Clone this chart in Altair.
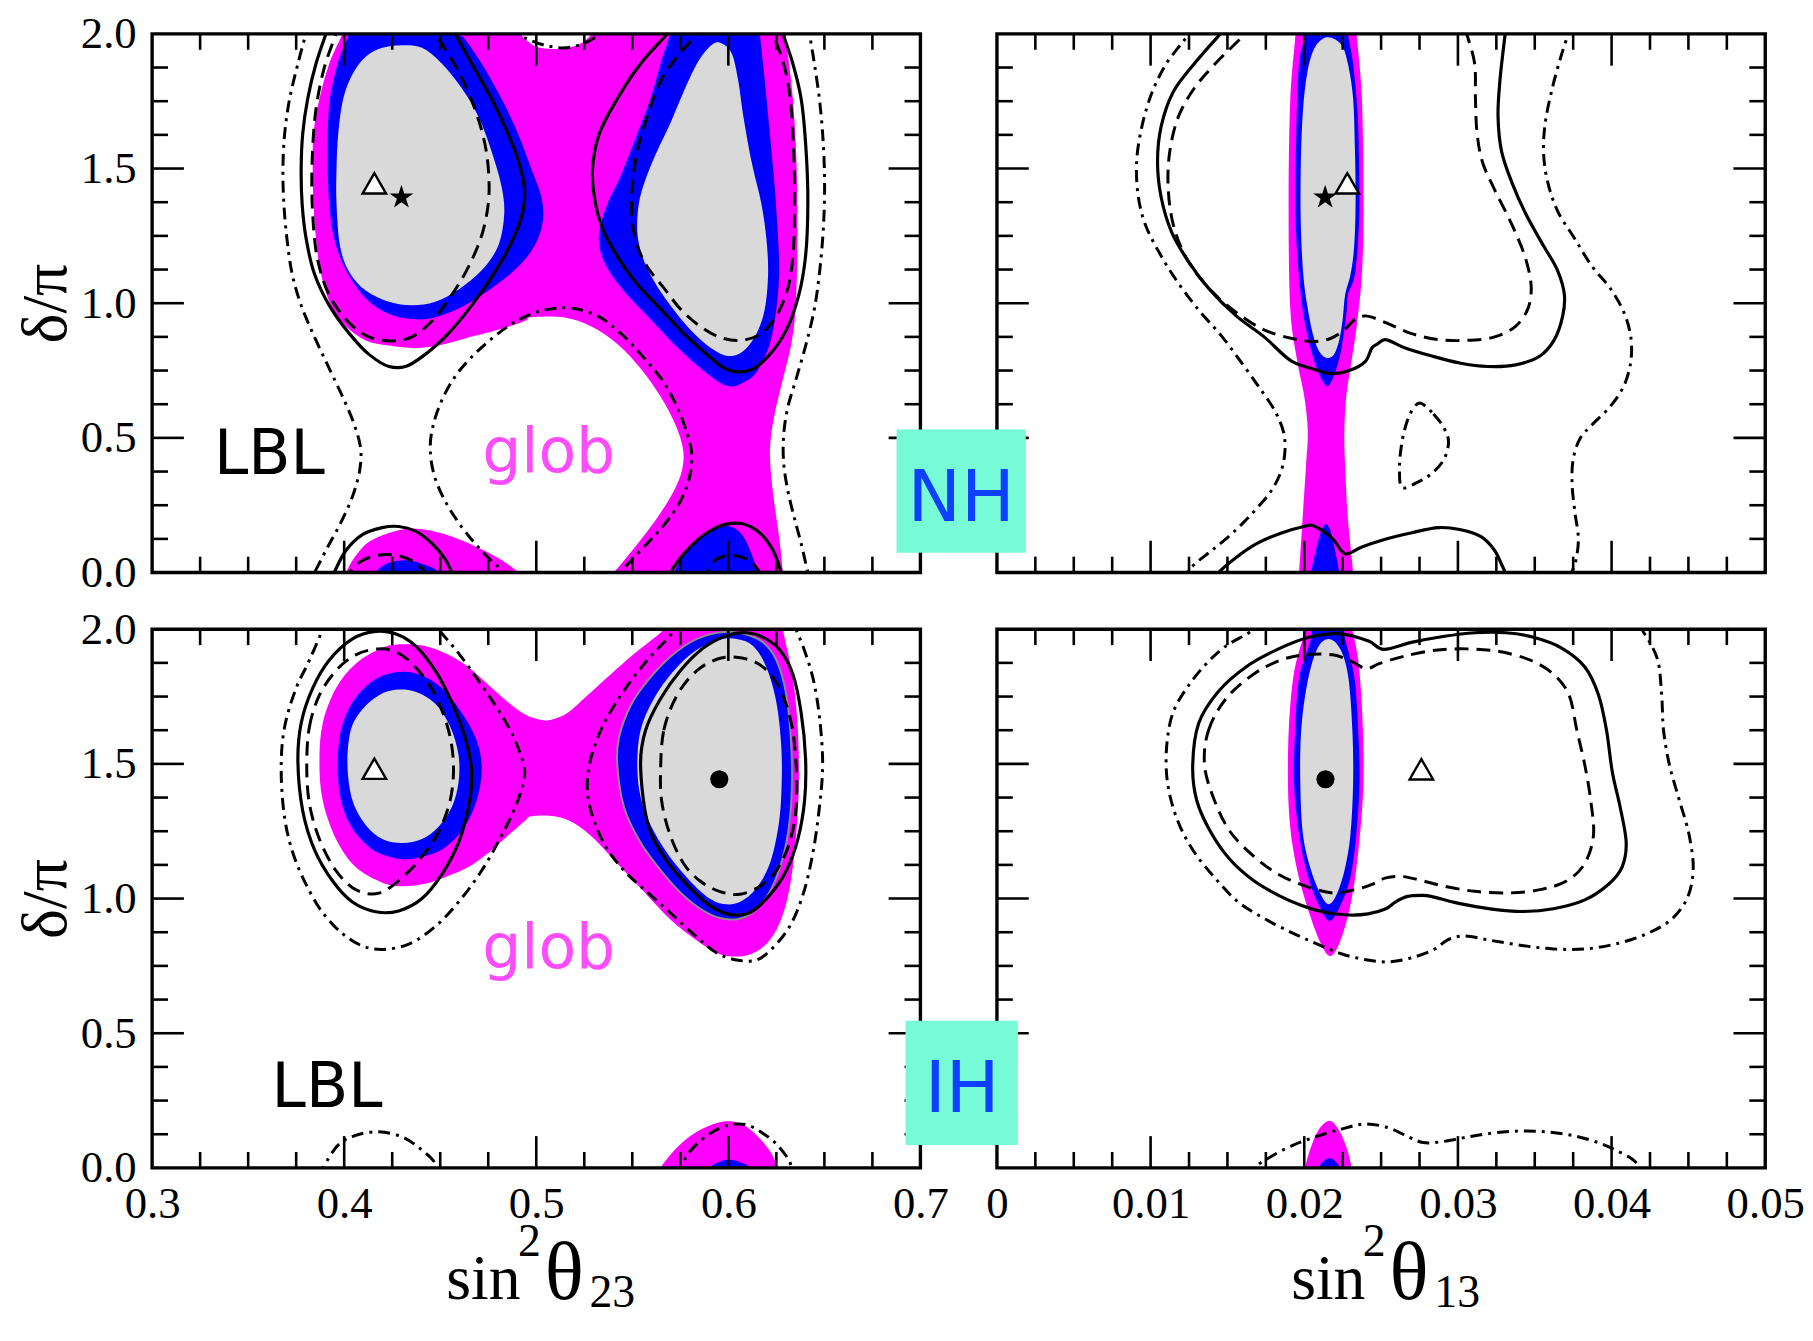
import altair as alt
import pandas as pd

# ---------------- axis values ----------------
X23_TICKS = [0.3, 0.4, 0.5, 0.6, 0.7]
X13_TICKS = [0.0, 0.01, 0.02, 0.03, 0.04, 0.05]
Y_TICKS = [0.0, 0.5, 1.0, 1.5, 2.0]

# ================= NH, sin^2(theta23) =================
NH23_MAG = [(0.402,2.06),(0.3991,2.0),(0.3922,1.889),(0.3871,1.759),(0.384,1.629),(0.3836,1.499),(0.384,1.369),(0.3853,1.239),(0.3879,1.109),(0.3931,0.992),(0.4009,0.914),(0.4112,0.862),(0.4233,0.843),(0.4371,0.834),(0.4491,0.843),(0.4629,0.869),(0.4802,0.901),(0.494,0.934),(0.4974,0.948),(0.5147,0.947),(0.5284,0.914),(0.5422,0.849),(0.5543,0.758),(0.5647,0.654),(0.5724,0.55),(0.5764,0.459),(0.5759,0.381),(0.5716,0.303),(0.5638,0.212),(0.5543,0.121),(0.544,0.03),(0.5405,0.0),(0.536,-0.06),(0.629,-0.06),(0.6284,0.0),(0.6264,0.134),(0.6238,0.264),(0.6219,0.394),(0.6219,0.485),(0.6241,0.589),(0.6284,0.719),(0.6328,0.849),(0.635,0.979),(0.6359,1.174),(0.6359,1.369),(0.6353,1.564),(0.6336,1.759),(0.6316,1.889),(0.6298,2.0),(0.629,2.06),(0.534,2.06),(0.529,2.0),(0.522,1.96),(0.512,1.945),(0.502,1.948),(0.496,1.97),(0.492,2.0),(0.49,2.06)]
NH23_MAG_BL = [(0.398,-0.06),(0.4009,0.0),(0.406,0.062),(0.4129,0.114),(0.4233,0.147),(0.4336,0.163),(0.444,0.157),(0.456,0.134),(0.4681,0.098),(0.4802,0.054),(0.4905,0.0),(0.496,-0.06)]
NH23_BLUE_L = [(0.405,2.06),(0.4026,2.0),(0.3966,1.889),(0.3926,1.759),(0.3914,1.629),(0.3914,1.499),(0.3922,1.369),(0.3948,1.239),(0.4009,1.122),(0.4112,1.018),(0.4233,0.96),(0.4371,0.94),(0.4491,0.951),(0.4629,0.992),(0.4784,1.064),(0.4905,1.135),(0.4991,1.213),(0.5034,1.304),(0.5026,1.395),(0.4974,1.499),(0.4905,1.629),(0.4819,1.759),(0.4716,1.889),(0.4629,1.98),(0.4595,2.0),(0.457,2.06)]
NH23_BLUE_R = [(0.572,2.06),(0.5698,2.0),(0.5647,1.889),(0.5595,1.759),(0.5526,1.629),(0.544,1.473),(0.5371,1.369),(0.5328,1.265),(0.5336,1.187),(0.5388,1.109),(0.5474,1.031),(0.5595,0.94),(0.5716,0.849),(0.5836,0.771),(0.594,0.713),(0.6009,0.691),(0.6078,0.706),(0.6147,0.745),(0.6216,0.849),(0.625,0.979),(0.6264,1.109),(0.6259,1.239),(0.6241,1.434),(0.6216,1.629),(0.619,1.824),(0.6164,2.0),(0.616,2.06)]
NH23_BLUE_BL = [(0.413,-0.06),(0.4164,0.0),(0.4233,0.036),(0.4336,0.045),(0.444,0.023),(0.4491,0.0),(0.452,-0.06)]
NH23_BLUE_BR = [(0.568,-0.06),(0.5716,0.0),(0.5784,0.082),(0.5871,0.141),(0.5966,0.171),(0.6026,0.167),(0.6078,0.134),(0.6121,0.069),(0.6155,0.0),(0.618,-0.06)]
NH23_GRAY_L = [(0.4112,1.915),(0.4198,1.948),(0.4302,1.958),(0.4405,1.948),(0.4509,1.889),(0.4612,1.798),(0.4698,1.694),(0.4767,1.564),(0.4819,1.434),(0.4833,1.33),(0.4802,1.213),(0.4716,1.122),(0.4595,1.051),(0.4474,1.005),(0.4353,0.992),(0.4233,1.005),(0.4112,1.047),(0.4026,1.116),(0.3978,1.213),(0.396,1.369),(0.396,1.499),(0.3969,1.629),(0.3995,1.759),(0.4043,1.85)]
NH23_GRAY_R = [(0.5957,1.967),(0.6017,1.928),(0.6052,1.824),(0.6078,1.694),(0.6121,1.525),(0.6172,1.369),(0.6198,1.239),(0.6207,1.109),(0.619,0.979),(0.6147,0.888),(0.6078,0.823),(0.6,0.804),(0.5905,0.836),(0.5802,0.901),(0.5698,0.992),(0.5612,1.083),(0.5552,1.174),(0.5526,1.265),(0.5534,1.369),(0.5569,1.46),(0.5629,1.564),(0.5698,1.668),(0.5767,1.785),(0.5836,1.889),(0.5905,1.954)]
NH23_SOLID_L = [(0.3925,2.04),(0.3905,2.0),(0.3853,1.889),(0.381,1.759),(0.3784,1.629),(0.3776,1.499),(0.3781,1.369),(0.3802,1.239),(0.3845,1.109),(0.3922,0.992),(0.4026,0.888),(0.4129,0.81),(0.4233,0.765),(0.4319,0.765),(0.4422,0.81),(0.4543,0.888),(0.4664,0.992),(0.4767,1.096),(0.4862,1.213),(0.4922,1.317),(0.494,1.408),(0.4914,1.512),(0.4853,1.629),(0.4767,1.759),(0.4664,1.889),(0.4578,2.0),(0.455,2.04)]
NH23_SOLID_R = [(0.572,2.04),(0.5681,2.0),(0.5543,1.889),(0.5422,1.759),(0.5328,1.629),(0.5293,1.499),(0.5302,1.395),(0.5345,1.278),(0.5422,1.174),(0.5526,1.07),(0.5647,0.979),(0.5767,0.888),(0.5888,0.81),(0.5974,0.761),(0.6052,0.745),(0.6129,0.756),(0.6216,0.81),(0.6302,0.901),(0.6367,1.031),(0.6402,1.174),(0.6414,1.369),(0.6405,1.564),(0.6379,1.759),(0.6336,1.889),(0.6284,2.0),(0.6265,2.04)]
NH23_SOLID_BL = [(0.393,-0.03),(0.3948,0.0),(0.4009,0.082),(0.4095,0.141),(0.4198,0.167),(0.4284,0.171),(0.4371,0.154),(0.4457,0.108),(0.4526,0.05),(0.456,0.0),(0.4575,-0.03)]
NH23_SOLID_BR = [(0.568,-0.03),(0.5698,0.0),(0.5784,0.082),(0.5888,0.147),(0.5991,0.18),(0.6078,0.18),(0.6164,0.147),(0.6233,0.082),(0.6276,0.0),(0.629,-0.03)]
NH23_DASH_L = [(0.3975,2.04),(0.3957,2.0),(0.3897,1.876),(0.3853,1.72),(0.3833,1.525),(0.3836,1.33),(0.3862,1.161),(0.3922,1.031),(0.4026,0.927),(0.4129,0.875),(0.425,0.86),(0.4353,0.875),(0.4457,0.934),(0.456,1.031),(0.4647,1.135),(0.4716,1.252),(0.475,1.369),(0.4753,1.473),(0.4733,1.59),(0.4681,1.72),(0.4603,1.85),(0.4517,1.954),(0.4474,2.0),(0.445,2.04)]
NH23_DASH_R = [(0.587,2.04),(0.5836,2.0),(0.5733,1.915),(0.5647,1.824),(0.5578,1.694),(0.5526,1.564),(0.55,1.434),(0.55,1.304),(0.5526,1.213),(0.5578,1.135),(0.5664,1.057),(0.575,0.979),(0.5853,0.914),(0.5957,0.873),(0.606,0.862),(0.6164,0.884),(0.625,0.953),(0.631,1.057),(0.6336,1.174),(0.6345,1.369),(0.634,1.564),(0.6322,1.759),(0.6288,1.889),(0.6241,1.98),(0.6224,2.0),(0.621,2.04)]
NH23_DASH_BL = [(0.4,-0.03),(0.4026,0.0),(0.4095,0.045),(0.4198,0.066),(0.4284,0.062),(0.4371,0.036),(0.4422,0.0),(0.444,-0.03)]
NH23_DASH_BR = [(0.586,-0.03),(0.5888,0.0),(0.594,0.05),(0.6026,0.063),(0.6112,0.043),(0.6164,0.0),(0.618,-0.03)]
NH23_DD_L = [(0.3825,2.04),(0.3802,2.0),(0.3759,1.889),(0.3716,1.759),(0.369,1.629),(0.3681,1.499),(0.3686,1.369),(0.3702,1.239),(0.3729,1.109),(0.3776,0.992),(0.3845,0.875),(0.3922,0.758),(0.3991,0.654),(0.4052,0.55),(0.4086,0.459),(0.4081,0.381),(0.4047,0.29),(0.3983,0.186),(0.3914,0.095),(0.3845,0.0),(0.382,-0.03)]
NH23_DD_MID = [(0.486,-0.03),(0.4836,0.0),(0.4767,0.043),(0.4681,0.108),(0.4595,0.186),(0.4517,0.277),(0.4466,0.368),(0.4448,0.459),(0.446,0.537),(0.4509,0.641),(0.4595,0.745),(0.4716,0.836),(0.4853,0.914),(0.4974,0.96),(0.5078,0.979),(0.5181,0.982),(0.5319,0.953),(0.544,0.888),(0.556,0.797),(0.5664,0.706),(0.5741,0.602),(0.5793,0.498),(0.581,0.433),(0.5798,0.355),(0.5759,0.277),(0.569,0.199),(0.5595,0.121),(0.5491,0.043),(0.544,0.0),(0.542,-0.03)]
NH23_DD_R = [(0.641,2.04),(0.6422,2.0),(0.6448,1.889),(0.6474,1.759),(0.6491,1.629),(0.65,1.499),(0.65,1.369),(0.6491,1.239),(0.6474,1.109),(0.6448,0.979),(0.6405,0.849),(0.6353,0.719),(0.631,0.615),(0.6288,0.511),(0.6288,0.407),(0.631,0.303),(0.6345,0.199),(0.6379,0.108),(0.6414,0.0),(0.6425,-0.03)]
NH23_DD_TOP = [(0.489,2.04),(0.491,2.0),(0.4974,1.975),(0.506,1.955),(0.5147,1.948),(0.523,1.96),(0.5302,1.985),(0.533,2.0),(0.535,2.04)]
NH23_STAR = [(0.4298, 1.393)]
NH23_TRI = [(0.4157, 1.445)]

# ================= NH, sin^2(theta13) =================
NH13_MAG = [(0.0194,2.06),(0.01943,2.0),(0.01909,1.759),(0.01898,1.369),(0.01909,0.979),(0.01955,0.784),(0.02,0.654),(0.02023,0.524),(0.02011,0.394),(0.01989,0.199),(0.01966,0.0),(0.0196,-0.06),(0.0232,-0.06),(0.02318,0.0),(0.02284,0.199),(0.02266,0.394),(0.02261,0.524),(0.02273,0.654),(0.02307,0.784),(0.02341,0.914),(0.02375,1.109),(0.02386,1.369),(0.02375,1.759),(0.02341,2.0),(0.0234,2.06)]
NH13_BLUE = [(0.0201,2.06),(0.02011,2.0),(0.01966,1.889),(0.01948,1.629),(0.01943,1.369),(0.01955,1.174),(0.01989,0.979),(0.02034,0.849),(0.02091,0.745),(0.02148,0.693),(0.02193,0.732),(0.02239,0.823),(0.02273,0.953),(0.02284,1.031),(0.0233,1.109),(0.02357,1.304),(0.02357,1.499),(0.02348,1.694),(0.02318,1.889),(0.02284,2.0),(0.0228,2.06)]
NH13_BLUE_BOT = [(0.0204,-0.06),(0.02045,0.0),(0.0208,0.095),(0.02114,0.16),(0.02143,0.18),(0.02175,0.147),(0.02205,0.069),(0.02227,0.0),(0.0223,-0.06)]
NH13_GRAY = [(0.02148,1.987),(0.02239,1.961),(0.02284,1.889),(0.02318,1.759),(0.0233,1.564),(0.02334,1.369),(0.02325,1.213),(0.02302,1.109),(0.02266,1.031),(0.0225,0.94),(0.02227,0.862),(0.02193,0.81),(0.02148,0.797),(0.02102,0.817),(0.02061,0.875),(0.02023,0.979),(0.01993,1.109),(0.01977,1.304),(0.01977,1.499),(0.01989,1.694),(0.02018,1.85),(0.02068,1.948)]
NH13_SOLID = [(0.0152,2.04),(0.01443,1.993),(0.01284,1.889),(0.01148,1.785),(0.01068,1.655),(0.01045,1.525),(0.01068,1.395),(0.01136,1.265),(0.01239,1.161),(0.01375,1.057),(0.01557,0.953),(0.01739,0.875),(0.0192,0.784),(0.02057,0.756),(0.0217,0.739),(0.02284,0.748),(0.02398,0.784),(0.02443,0.836),(0.02477,0.849),(0.02523,0.865),(0.02648,0.836),(0.0283,0.804),(0.03011,0.778),(0.03193,0.765),(0.03375,0.771),(0.03534,0.804),(0.03625,0.862),(0.03682,0.953),(0.03693,1.031),(0.03648,1.122),(0.03557,1.213),(0.03443,1.33),(0.03352,1.447),(0.03284,1.564),(0.03261,1.694),(0.03273,1.824),(0.03295,1.941),(0.03307,2.0),(0.0331,2.04)]
NH13_SOLID_BOT = [(0.0141,-0.03),(0.01443,0.0),(0.01557,0.056),(0.01693,0.108),(0.01852,0.147),(0.02011,0.173),(0.02045,0.176),(0.02125,0.153),(0.02193,0.121),(0.02239,0.082),(0.02273,0.069),(0.02375,0.095),(0.02511,0.121),(0.02693,0.147),(0.02875,0.167),(0.03011,0.16),(0.03148,0.134),(0.03239,0.082),(0.03284,0.03),(0.03307,0.0),(0.0331,-0.03)]
NH13_DASH = [(0.0167,2.04),(0.01602,1.993),(0.0142,1.889),(0.01284,1.798),(0.01182,1.694),(0.01125,1.564),(0.01114,1.434),(0.01148,1.291),(0.01239,1.161),(0.01398,1.044),(0.01557,0.966),(0.01739,0.901),(0.0192,0.869),(0.02057,0.858),(0.0217,0.869),(0.02261,0.901),(0.0233,0.94),(0.02398,0.953),(0.02534,0.927),(0.02693,0.888),(0.02875,0.865),(0.03057,0.862),(0.03239,0.875),(0.03375,0.914),(0.03455,0.979),(0.03477,1.057),(0.03443,1.161),(0.03352,1.291),(0.03239,1.421),(0.03159,1.525),(0.03125,1.629),(0.03114,1.759),(0.03109,1.889),(0.03068,1.98),(0.03057,2.0),(0.0305,2.04)]
NH13_DD_L = [(0.0128,2.04),(0.0125,2.0),(0.01205,1.967),(0.01102,1.889),(0.01011,1.785),(0.00943,1.655),(0.00909,1.525),(0.0092,1.395),(0.00966,1.291),(0.01057,1.187),(0.0117,1.083),(0.01307,0.979),(0.01466,0.875),(0.01602,0.771),(0.01716,0.68),(0.01807,0.602),(0.01864,0.524),(0.01875,0.459),(0.01852,0.381),(0.01784,0.303),(0.0167,0.225),(0.01534,0.147),(0.01398,0.082),(0.01284,0.03),(0.01239,0.0),(0.0122,-0.03)]
NH13_DD_R = [(0.0373,2.04),(0.03716,2.0),(0.0367,1.915),(0.03614,1.798),(0.03568,1.668),(0.03557,1.564),(0.0358,1.46),(0.03648,1.343),(0.03761,1.239),(0.03875,1.135),(0.03989,1.057),(0.0408,0.966),(0.04125,0.875),(0.04125,0.784),(0.0408,0.693),(0.03989,0.615),(0.03875,0.55),(0.03795,0.498),(0.0375,0.42),(0.03743,0.329),(0.03761,0.225),(0.03784,0.121),(0.03761,0.03),(0.03739,0.0),(0.0373,-0.03)]
NH13_DD_LOOP = [(0.02761,0.628),(0.02841,0.589),(0.02909,0.537),(0.02939,0.485),(0.02909,0.42),(0.0283,0.368),(0.02739,0.336),(0.02636,0.316),(0.0262,0.394),(0.02636,0.485),(0.0267,0.563),(0.02716,0.615)]
NH13_STAR = [(0.02136, 1.393)]
NH13_TRI = [(0.0228, 1.445)]

# ================= IH, sin^2(theta23) =================
IH23_MAG = [(0.3871,1.508),(0.3888,1.651),(0.3957,1.781),(0.406,1.872),(0.4198,1.931),(0.4302,1.944),(0.4422,1.938),(0.4543,1.905),(0.4647,1.859),(0.475,1.794),(0.4853,1.729),(0.494,1.684),(0.5019,1.664),(0.5078,1.664),(0.5164,1.69),(0.5267,1.755),(0.5388,1.833),(0.5491,1.898),(0.5595,1.957),(0.5664,2.0),(0.57,2.06),(0.628,2.06),(0.6284,2.0),(0.6336,1.82),(0.6362,1.625),(0.6367,1.43),(0.6353,1.234),(0.6319,1.039),(0.6267,0.909),(0.6198,0.831),(0.6112,0.792),(0.6026,0.785),(0.594,0.798),(0.5836,0.844),(0.5698,0.922),(0.556,1.026),(0.5422,1.13),(0.5302,1.221),(0.5198,1.28),(0.5095,1.306),(0.4974,1.306),(0.494,1.288),(0.4853,1.234),(0.475,1.169),(0.4647,1.117),(0.4543,1.085),(0.4422,1.055),(0.4302,1.046),(0.4198,1.059),(0.406,1.117),(0.3957,1.221),(0.3888,1.365)]
IH23_MAG_BOT = [(0.562,-0.06),(0.5647,0.0),(0.5733,0.076),(0.5836,0.134),(0.594,0.167),(0.6009,0.173),(0.6078,0.16),(0.6147,0.121),(0.6216,0.063),(0.6259,0.0),(0.628,-0.06)]
IH23_BLUE_L = [(0.3966,1.495),(0.3983,1.625),(0.4043,1.729),(0.4147,1.807),(0.4267,1.84),(0.4388,1.833),(0.4509,1.781),(0.4612,1.69),(0.469,1.586),(0.4716,1.482),(0.469,1.365),(0.4621,1.26),(0.4509,1.182),(0.4371,1.15),(0.4267,1.15),(0.4147,1.182),(0.4043,1.26),(0.3983,1.365)]
IH23_GRAY_L = [(0.4017,1.495),(0.4034,1.625),(0.4095,1.703),(0.4181,1.755),(0.4267,1.775),(0.4371,1.768),(0.4474,1.723),(0.4552,1.638),(0.4595,1.534),(0.4595,1.43),(0.456,1.339),(0.4491,1.267),(0.4405,1.221),(0.4302,1.206),(0.4198,1.221),(0.4112,1.273),(0.4043,1.365)]
IH23_BLUE_R = [(0.5422,1.495),(0.5431,1.599),(0.5491,1.716),(0.5578,1.807),(0.5698,1.898),(0.5836,1.964),(0.5974,1.99),(0.6078,1.983),(0.6181,1.951),(0.625,1.885),(0.6302,1.755),(0.6328,1.56),(0.6328,1.365),(0.6302,1.208),(0.625,1.078),(0.6181,0.987),(0.6095,0.935),(0.6009,0.922),(0.5905,0.941),(0.5784,1.0),(0.5664,1.091),(0.5543,1.208),(0.5457,1.339)]
IH23_GRAY_R = [(0.5526,1.495),(0.5543,1.625),(0.5612,1.742),(0.5716,1.846),(0.5836,1.924),(0.5957,1.961),(0.6043,1.964),(0.6129,1.938),(0.6198,1.859),(0.625,1.729),(0.6276,1.56),(0.6276,1.391),(0.6259,1.26),(0.6216,1.13),(0.6147,1.039),(0.606,0.987),(0.5974,0.98),(0.5888,1.007),(0.5784,1.078),(0.5681,1.169),(0.5595,1.273),(0.5543,1.378)]
IH23_BLUE_BOT = [(0.589,-0.06),(0.5905,0.0),(0.5957,0.023),(0.6009,0.03),(0.606,0.021),(0.6112,0.0),(0.613,-0.06)]
IH23_SOLID_L = [(0.3759,1.508),(0.3776,1.651),(0.3836,1.781),(0.3922,1.885),(0.4043,1.964),(0.4164,1.992),(0.4267,1.983),(0.4371,1.938),(0.4474,1.846),(0.456,1.729),(0.4629,1.599),(0.4664,1.469),(0.4647,1.339),(0.4595,1.208),(0.4509,1.091),(0.4405,1.0),(0.4284,0.954),(0.4164,0.951),(0.4043,0.987),(0.394,1.065),(0.3845,1.182),(0.3784,1.326)]
IH23_DASH_L = [(0.3805,1.495),(0.3819,1.638),(0.3871,1.755),(0.3957,1.846),(0.406,1.905),(0.4181,1.927),(0.4284,1.911),(0.4388,1.846),(0.4474,1.755),(0.4543,1.625),(0.4569,1.495),(0.4552,1.365),(0.4491,1.247),(0.4405,1.156),(0.4302,1.078),(0.4181,1.02),(0.406,1.033),(0.3957,1.104),(0.3871,1.221),(0.3819,1.352)]
IH23_SOLID_R = [(0.5543,1.495),(0.5569,1.625),(0.5647,1.742),(0.575,1.846),(0.5871,1.931),(0.5991,1.977),(0.6095,1.987),(0.6181,1.97),(0.6267,1.924),(0.6336,1.833),(0.6379,1.69),(0.6402,1.521),(0.6397,1.365),(0.6362,1.221),(0.6302,1.104),(0.6216,1.013),(0.6112,0.948),(0.6009,0.941),(0.5905,0.974),(0.5784,1.052),(0.5664,1.156),(0.5578,1.286)]
IH23_DASH_R = [(0.5647,1.469),(0.5664,1.625),(0.5733,1.755),(0.5836,1.846),(0.5957,1.892),(0.6078,1.892),(0.6181,1.859),(0.6267,1.781),(0.6328,1.651),(0.6353,1.495),(0.6353,1.339),(0.6319,1.208),(0.625,1.104),(0.6164,1.046),(0.606,1.016),(0.5957,1.026),(0.5853,1.065),(0.5767,1.13),(0.5698,1.234),(0.5655,1.352)]
IH23_DD_L = [(0.391,2.04),(0.3888,2.0),(0.3819,1.885),(0.375,1.781),(0.369,1.638),(0.3672,1.495),(0.369,1.299),(0.3733,1.169),(0.3802,1.052),(0.3888,0.948),(0.3991,0.87),(0.4095,0.824),(0.4198,0.811),(0.4336,0.831),(0.4474,0.896),(0.4595,0.987),(0.4716,1.104),(0.4819,1.234),(0.4905,1.365),(0.494,1.47),(0.4905,1.56),(0.4853,1.64),(0.4784,1.72),(0.4698,1.81),(0.4595,1.911),(0.4491,2.0),(0.445,2.04)]
IH23_DD_R = [(0.575,2.04),(0.572,2.0),(0.5698,1.977),(0.5578,1.885),(0.544,1.755),(0.5336,1.625),(0.5276,1.495),(0.5267,1.391),(0.5302,1.286),(0.5371,1.182),(0.5474,1.091),(0.5595,1.013),(0.5716,0.935),(0.5836,0.857),(0.594,0.798),(0.6043,0.772),(0.6147,0.772),(0.6233,0.818),(0.6319,0.896),(0.6388,1.013),(0.644,1.169),(0.6474,1.339),(0.6491,1.495),(0.6474,1.677),(0.644,1.82),(0.6388,1.938),(0.6353,2.0),(0.634,2.04)]
IH23_DD_BL = [(0.386,-0.03),(0.3888,0.0),(0.3974,0.089),(0.406,0.121),(0.4181,0.134),(0.4302,0.115),(0.4388,0.076),(0.4474,0.017),(0.449,-0.03)]
IH23_DD_BR = [(0.573,-0.03),(0.575,0.0),(0.5802,0.063),(0.5905,0.128),(0.6009,0.16),(0.6095,0.16),(0.6181,0.128),(0.625,0.089),(0.6319,0.023),(0.634,-0.03)]
IH23_TRI = [(0.4157, 1.482)]
IH23_DOT = [(0.5953, 1.443)]

# ================= IH, sin^2(theta13) =================
IH13_MAG = [(0.02,2.06),(0.02005,2.0),(0.01928,1.821),(0.01895,1.56),(0.01903,1.3),(0.01954,1.105),(0.02031,0.949),(0.02108,0.832),(0.02172,0.787),(0.02236,0.845),(0.023,0.975),(0.02351,1.17),(0.02385,1.43),(0.02377,1.691),(0.02351,1.886),(0.02313,2.0),(0.0231,2.06)]
IH13_MAG_BOT = [(0.02,-0.06),(0.02005,0.0),(0.02044,0.078),(0.02095,0.143),(0.02164,0.175),(0.02223,0.143),(0.02274,0.078),(0.02308,0.0),(0.0231,-0.06)]
IH13_BLUE = [(0.0206,2.06),(0.02044,1.964),(0.01967,1.821),(0.01941,1.626),(0.01933,1.43),(0.01967,1.235),(0.02026,1.079),(0.02095,0.975),(0.02164,0.917),(0.02236,0.975),(0.023,1.079),(0.02338,1.235),(0.02359,1.43),(0.02351,1.626),(0.02326,1.821),(0.02262,1.977),(0.0226,2.06)]
IH13_BLUE_BOT = [(0.0209,-0.06),(0.02095,0.0),(0.02128,0.026),(0.02164,0.036),(0.022,0.026),(0.02231,0.0),(0.0224,-0.06)]
IH13_GRAY = [(0.02159,1.964),(0.02236,1.925),(0.02287,1.821),(0.02313,1.626),(0.02318,1.43),(0.023,1.235),(0.02262,1.105),(0.0221,1.014),(0.02159,0.979),(0.02108,1.014),(0.02044,1.105),(0.01992,1.235),(0.01974,1.43),(0.0198,1.626),(0.02018,1.795),(0.02082,1.925)]
IH13_SOLID = [(0.01274,1.495),(0.01313,1.651),(0.01441,1.769),(0.01621,1.86),(0.01826,1.925),(0.02031,1.97),(0.02236,1.983),(0.02415,1.957),(0.02518,1.925),(0.02697,1.951),(0.02903,1.973),(0.03108,1.987),(0.03313,1.987),(0.03492,1.97),(0.03672,1.931),(0.03826,1.86),(0.03915,1.756),(0.03967,1.625),(0.04005,1.469),(0.04056,1.339),(0.04095,1.209),(0.04069,1.118),(0.0398,1.053),(0.03826,0.995),(0.03621,0.962),(0.03415,0.952),(0.0321,0.962),(0.03005,0.982),(0.02826,1.008),(0.02762,1.012),(0.02672,1.008),(0.02595,0.988),(0.02531,0.962),(0.02415,0.943),(0.02287,0.939),(0.02133,0.949),(0.01979,0.975),(0.01826,1.014),(0.01672,1.066),(0.01518,1.144),(0.0139,1.248),(0.013,1.365)]
IH13_DASH = [(0.01351,1.495),(0.01377,1.625),(0.01492,1.743),(0.01672,1.834),(0.01851,1.886),(0.02005,1.905),(0.02185,1.905),(0.02313,1.879),(0.02403,1.853),(0.02492,1.873),(0.02646,1.899),(0.02851,1.922),(0.03056,1.927),(0.03262,1.918),(0.03467,1.886),(0.0362,1.834),(0.03723,1.756),(0.03774,1.625),(0.03826,1.495),(0.03864,1.365),(0.03882,1.235),(0.03826,1.131),(0.0371,1.066),(0.03544,1.034),(0.03338,1.021),(0.03108,1.027),(0.02903,1.047),(0.02749,1.069),(0.02633,1.082),(0.02531,1.077),(0.02441,1.053),(0.02338,1.034),(0.02185,1.021),(0.02005,1.047),(0.01826,1.092),(0.01672,1.157),(0.01518,1.248),(0.01415,1.365)]
IH13_DD = [(0.0172,2.04),(0.0167,2.0),(0.01492,1.938),(0.01364,1.873),(0.01236,1.782),(0.01146,1.691),(0.01108,1.586),(0.01103,1.469),(0.01133,1.365),(0.01197,1.261),(0.01287,1.17),(0.01415,1.079),(0.01569,0.988),(0.01749,0.923),(0.01928,0.871),(0.02082,0.832),(0.02236,0.796),(0.0239,0.774),(0.02544,0.765),(0.02697,0.78),(0.02851,0.813),(0.02928,0.845),(0.03031,0.861),(0.0321,0.845),(0.03415,0.826),(0.03621,0.813),(0.03826,0.813),(0.04031,0.832),(0.04236,0.871),(0.0439,0.923),(0.04492,1.001),(0.04531,1.105),(0.04505,1.235),(0.04441,1.365),(0.04377,1.495),(0.04338,1.625),(0.04326,1.756),(0.043,1.886),(0.04249,1.951),(0.04197,2.0),(0.0417,2.04)]
IH13_DD_BOT = [(0.0162,-0.03),(0.01672,0.0),(0.01774,0.039),(0.01928,0.085),(0.02082,0.117),(0.02236,0.143),(0.0239,0.163),(0.02544,0.15),(0.02672,0.117),(0.02774,0.094),(0.02903,0.098),(0.03056,0.114),(0.03236,0.13),(0.03415,0.137),(0.03595,0.133),(0.03774,0.117),(0.03928,0.091),(0.04031,0.065),(0.04133,0.033),(0.0419,0.0),(0.0422,-0.03)]
IH13_DOT = [(0.02138, 1.443)]
IH13_TRI = [(0.02762, 1.48)]

# ---------------- styles ----------------
W, H = 773, 542
MAGENTA, BLUE, GRAY = "#ff00ff", "#0000ff", "#d9d9d9"
SERIF = "Liberation Serif"
SANS = "DejaVu Sans"
DASH = [14, 8]
DASHDOT = [12, 6, 3, 6]
STAR_PATH = ("M0,-1L0.2245,-0.309L0.951,-0.309L0.3633,0.118L0.588,0.809L0,0.382"
             "L-0.588,0.809L-0.3633,0.118L-0.951,-0.309L-0.2245,-0.309Z")
LABEL_SIZE = 45


def shapes_df(shapes):
    rows = []
    for name, pts in shapes.items():
        for k, (x, y) in enumerate(pts):
            rows.append({"id": name, "i": k, "x": x, "y": y})
    return pd.DataFrame(rows)


def make_enc(xticks, show_x, show_y, xfmt):
    xdom = [xticks[0], xticks[-1]]
    xkw = dict(scale=alt.Scale(domain=xdom, nice=False, zero=False))
    ykw = dict(scale=alt.Scale(domain=[0, 2], nice=False, zero=False))
    if show_x:
        xkw["axis"] = alt.Axis(values=xticks, labelExpr=xfmt, labelFont=SERIF, labelFontSize=LABEL_SIZE,
                               labelColor="black", labelPadding=14, labelFlush=False,
                               labelOverlap=False, ticks=False, domain=False, grid=False, title="")
    else:
        xkw["axis"] = None
    if show_y:
        ykw["axis"] = alt.Axis(values=Y_TICKS, format=".1f", labelFont=SERIF, labelFontSize=LABEL_SIZE,
                               labelColor="black", labelPadding=16, labelFlush=False,
                               labelOverlap=False, ticks=False, domain=False, grid=False,
                               title="δ/π", titleFont=SERIF, titleFontSize=64,
                               titleFontWeight="normal", titleColor="black", titlePadding=2)
    else:
        ykw["axis"] = None
    return alt.X("x:Q", **xkw), alt.Y("y:Q", **ykw)


def tick_frames(xticks):
    xmin, xmax = xticks[0], xticks[-1]
    step = (xticks[1] - xticks[0]) / 4
    nx = round((xmax - xmin) / step)
    vrows, hrows = [], []
    for k in range(1, nx):
        xv = xmin + k * step
        L = 32 if k % 4 == 0 else 16
        d = L / H * 2.0
        vrows.append({"x": xv, "y": 0.0, "y2": d})
        vrows.append({"x": xv, "y": 2.0, "y2": 2.0 - d})
    for k in range(1, 16):
        yv = k * 0.125
        L = 32 if k % 4 == 0 else 16
        d = L / W * (xmax - xmin)
        hrows.append({"y": yv, "x": xmin, "x2": xmin + d})
        hrows.append({"y": yv, "x": xmax, "x2": xmax - d})
    return pd.DataFrame(vrows), pd.DataFrame(hrows)


def panel(xticks, show_x, show_y, xfmt, mag, blue, gray, solid, dashed, dashdot,
          closed_solid, closed_dashed, closed_dashdot, stars, tris, dots, outlined_blue, extra):
    X, Y = make_enc(xticks, show_x, show_y, xfmt)
    layers = []

    def fill(shapes, color):
        return alt.Chart(shapes_df(shapes)).mark_line(
            filled=True, color=color, interpolate="cardinal-closed", clip=True, strokeWidth=0
        ).encode(x=X, y=Y, detail="id:N", order="i:Q")

    def line(shapes, dash, closed):
        kw = dict(color="black", strokeWidth=3.2, clip=True,
                  interpolate=("cardinal-closed" if closed else "catmull-rom"))
        if dash:
            kw["strokeDash"] = dash
            kw["strokeWidth"] = 3.0
        return alt.Chart(shapes_df(shapes)).mark_line(**kw).encode(
            x=X, y=Y, detail="id:N", order="i:Q")

    layers.append(fill(mag, MAGENTA))
    layers.append(fill(blue, BLUE))
    if outlined_blue:
        layers.append(alt.Chart(shapes_df(outlined_blue)).mark_line(
            color="#8c8c8c", strokeWidth=2, interpolate="cardinal-closed", clip=True
        ).encode(x=X, y=Y, detail="id:N", order="i:Q"))
    layers.append(fill(gray, GRAY))

    vdf, hdf = tick_frames(xticks)
    layers.append(alt.Chart(vdf).mark_rule(color="black", strokeWidth=2.6).encode(
        x=X, y=Y, y2=alt.Y2("y2:Q")))
    layers.append(alt.Chart(hdf).mark_rule(color="black", strokeWidth=2.6).encode(
        x=X, x2=alt.X2("x2:Q"), y=Y))

    for shapes, dash, closed in [(solid, None, False), (dashed, DASH, False), (dashdot, DASHDOT, False),
                                 (closed_solid, None, True), (closed_dashed, DASH, True),
                                 (closed_dashdot, DASHDOT, True)]:
        if shapes:
            layers.append(line(shapes, dash, closed))

    def pts_df(pts):
        return pd.DataFrame({"x": [p[0] for p in pts], "y": [p[1] for p in pts]})

    if stars:
        layers.append(alt.Chart(pts_df(stars)).mark_point(
            shape=STAR_PATH, filled=True, color="black", size=640, opacity=1).encode(x=X, y=Y))
    if tris:
        layers.append(alt.Chart(pts_df(tris)).mark_point(
            shape="triangle-up", filled=True, fill="white", stroke="black", strokeWidth=2.4,
            size=560, opacity=1).encode(x=X, y=Y))
    if dots:
        layers.append(alt.Chart(pts_df(dots)).mark_point(
            shape="circle", filled=True, color="black", size=330, opacity=1).encode(x=X, y=Y))

    one = pd.DataFrame({"a": [0]})
    layers.append(alt.Chart(one).mark_rect(filled=False, color="black", strokeWidth=3.4).encode(
        x=alt.value(0), x2=alt.value(W), y=alt.value(0), y2=alt.value(H)))
    layers.extend(extra)
    return alt.layer(*layers).properties(width=W, height=H)


one = pd.DataFrame({"a": [0]})


def label(txt, x, y, size, color, font=SANS, align="center"):
    return alt.Chart(one).mark_text(text=txt, font=font, fontSize=size, color=color, align=align,
                                    baseline="alphabetic").encode(
        x=alt.value(x), y=alt.value(y))


def xtitle(sub):
    return [
        label("sin", 296, 674, 64, "black", font=SERIF, align="left"),
        label("2", 368, 631, 46, "black", font=SERIF, align="left"),
        label("θ", 395, 674, 82, "black", font=SERIF, align="left"),
        label(sub, 440, 682, 46, "black", font=SERIF, align="left"),
    ]


def box(txt, x0, x1, y0, y1, tx, ty):
    return [
        alt.Chart(one).mark_rect(color="#77fbd7").encode(
            x=alt.value(x0), x2=alt.value(x1), y=alt.value(y0), y2=alt.value(y1)),
        label(txt, tx, ty, 72, "#1040ff"),
    ]


FMT23 = "format(datum.value, '.1f')"
FMT13 = "datum.value == 0 ? '0' : format(datum.value, '.2f')"

tl = panel(X23_TICKS, False, True, FMT23,
           {"a": NH23_MAG, "b": NH23_MAG_BL},
           {"a": NH23_BLUE_L, "b": NH23_BLUE_R, "c": NH23_BLUE_BL, "d": NH23_BLUE_BR},
           {"a": NH23_GRAY_L, "b": NH23_GRAY_R},
           {"a": NH23_SOLID_L, "b": NH23_SOLID_R, "c": NH23_SOLID_BL, "d": NH23_SOLID_BR},
           {"a": NH23_DASH_L, "b": NH23_DASH_R, "c": NH23_DASH_BL, "d": NH23_DASH_BR},
           {"a": NH23_DD_L, "b": NH23_DD_MID, "c": NH23_DD_R, "d": NH23_DD_TOP},
           None, None, None, NH23_STAR, NH23_TRI, None, None,
           [label("LBL", 118, 443, 62, "black"), label("glob", 399, 441, 62, "#ff4cff")])

tr = panel(X13_TICKS, False, False, FMT13,
           {"a": NH13_MAG}, {"a": NH13_BLUE, "b": NH13_BLUE_BOT}, {"a": NH13_GRAY},
           {"a": NH13_SOLID, "b": NH13_SOLID_BOT}, {"a": NH13_DASH},
           {"a": NH13_DD_L, "b": NH13_DD_R},
           None, None, {"a": NH13_DD_LOOP}, NH13_STAR, NH13_TRI, None, None,
           box("NH", -101, 29, 398, 522, -36, 490))

bl = panel(X23_TICKS, True, True, FMT23,
           {"a": IH23_MAG, "b": IH23_MAG_BOT},
           {"a": IH23_BLUE_L, "b": IH23_BLUE_R, "c": IH23_BLUE_BOT},
           {"a": IH23_GRAY_L, "b": IH23_GRAY_R},
           None, None, {"a": IH23_DD_L, "b": IH23_DD_R, "c": IH23_DD_BL, "d": IH23_DD_BR},
           {"a": IH23_SOLID_L, "b": IH23_SOLID_R}, {"a": IH23_DASH_L, "b": IH23_DASH_R}, None,
           None, IH23_TRI, IH23_DOT, {"a": IH23_BLUE_R},
           [label("LBL", 176, 481, 62, "black"), label("glob", 399, 341, 62, "#ff4cff")] + xtitle("23"))

br = panel(X13_TICKS, True, False, FMT13,
           {"a": IH13_MAG, "b": IH13_MAG_BOT}, {"a": IH13_BLUE, "b": IH13_BLUE_BOT}, {"a": IH13_GRAY},
           None, None, {"a": IH13_DD, "b": IH13_DD_BOT},
           {"a": IH13_SOLID}, {"a": IH13_DASH}, None,
           None, IH13_TRI, IH13_DOT, None,
           box("IH", -92, 21, 394, 519, -35, 486) + xtitle("13"))

chart = alt.concat(tl, tr, bl, br, columns=2, spacing={"row": 57, "column": 77},
                   bounds="flush").properties(
    padding={"left": 6, "top": 0, "right": 0, "bottom": 0}, background="white"
).configure_view(strokeWidth=0)

chart.save("out.html", embed_options={"renderer": "svg", "actions": False})
